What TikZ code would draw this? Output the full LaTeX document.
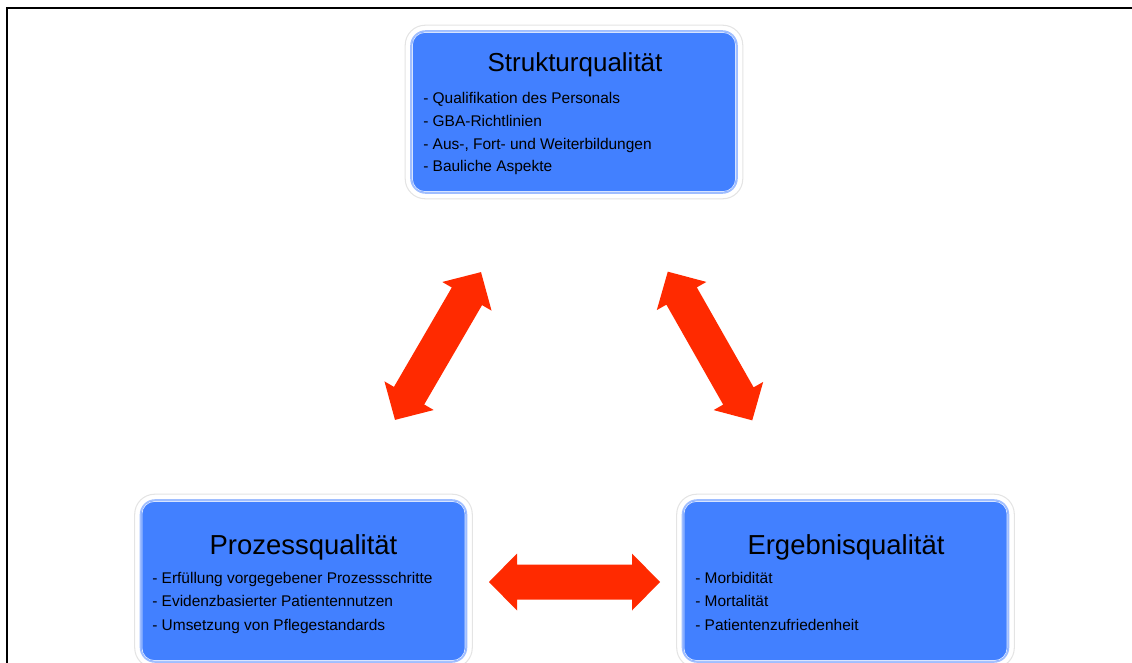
\documentclass[tikz,border=0pt]{standalone}
\usepackage{fontspec}
\setmainfont{Liberation Sans}
\usetikzlibrary{calc}
\definecolor{boxblue}{RGB}{66,128,255}
\definecolor{boxedge}{RGB}{160,190,255}
\definecolor{boxinner}{RGB}{215,228,255}
\definecolor{glowgray}{RGB}{228,228,228}
\definecolor{arrowred}{RGB}{255,42,0}
\tikzset{
  qbox/.style={draw=boxedge, line width=1.2pt, fill=boxblue, rounded corners=11pt,
    minimum width=244.5pt, minimum height=121.5pt, inner sep=0pt},
  glow/.style={draw=glowgray, line width=0.8pt, rounded corners=15pt},
  inner/.style={draw=boxinner, line width=0.6pt, rounded corners=9.5pt},
  title/.style={font=\fontsize{20.6}{24}\selectfont, anchor=base, inner sep=0pt},
  titlesmall/.style={font=\fontsize{19.5}{23}\selectfont, anchor=base, inner sep=0pt},
  item/.style={font=\fontsize{11.6}{14}\selectfont, anchor=base west, inner sep=0pt},
  frameline/.style={line width=1.7pt, black},
  dblarrow/.pic={
    \fill[arrowred] (-85.5,0) -- (-57.5,28.5) -- (-57.5,17.5) -- (57.5,17.5) -- (57.5,28.5)
      -- (85.5,0) -- (57.5,-28.5) -- (57.5,-17.5) -- (-57.5,-17.5) -- (-57.5,-28.5) -- cycle;
  }
}
\begin{document}
\begin{tikzpicture}[x=0.75pt,y=-0.75pt]
\useasboundingbox (0,0) rectangle (1132,663);
% frame
\coordinate (fr) at (1132,8);
\coordinate (fc) at (7,8);
\coordinate (fb) at (7,663);
\draw[frameline] (fr) -- (fc) -- (fb);

% boxes
\foreach \n/\x/\y in {struktur/574/112, prozess/303.5/581, ergebnis/845.5/581}{
  \node[qbox] (\n) at (\x,\y) {};
  \draw[glow] ($(\n.north west)+(-5,-5)$) rectangle ($(\n.south east)+(5,5)$);
  \draw[inner] ($(\n.north west)+(2.2,2.2)$) rectangle ($(\n.south east)+(-2.2,-2.2)$);
}

% Struktur
\node[titlesmall] (t1) at (575,71.5) {Strukturqualität};
\node[item] (s1) at (423,103.5) {- Qualifikation des Personals};
\node[item] (s2) at (423,126.3) {- GBA-Richtlinien};
\node[item] (s3) at (423,149.1) {- Aus-, Fort- und Weiterbildungen};
\node[item] (s4) at (423,171.9) {- Bauliche Aspekte};

% Prozess
\node[title] (t2) at (303.5,554) {Prozessqualität};
\node[item] (p1) at (152,583.5) {- Erfüllung vorgegebener Prozessschritte};
\node[item] (p2) at (152,606.9) {- Evidenzbasierter Patientennutzen};
\node[item] (p3) at (152,630.3) {- Umsetzung von Pflegestandards};

% Ergebnis
\node[title] (t3) at (846,554) {Ergebnisqualität};
\node[item] (e1) at (695,583.5) {- Morbidität};
\node[item] (e2) at (695,606.9) {- Mortalität};
\node[item] (e3) at (695,630.3) {- Patientenzufriedenheit};

% arrows
\pic[rotate=59.8] (aleft) at (438,346) {dblarrow};
\pic[rotate=-60.4] (aright) at (710,346) {dblarrow};
\pic (abottom) at (574.5,582) {dblarrow};
\end{tikzpicture}
\end{document}
